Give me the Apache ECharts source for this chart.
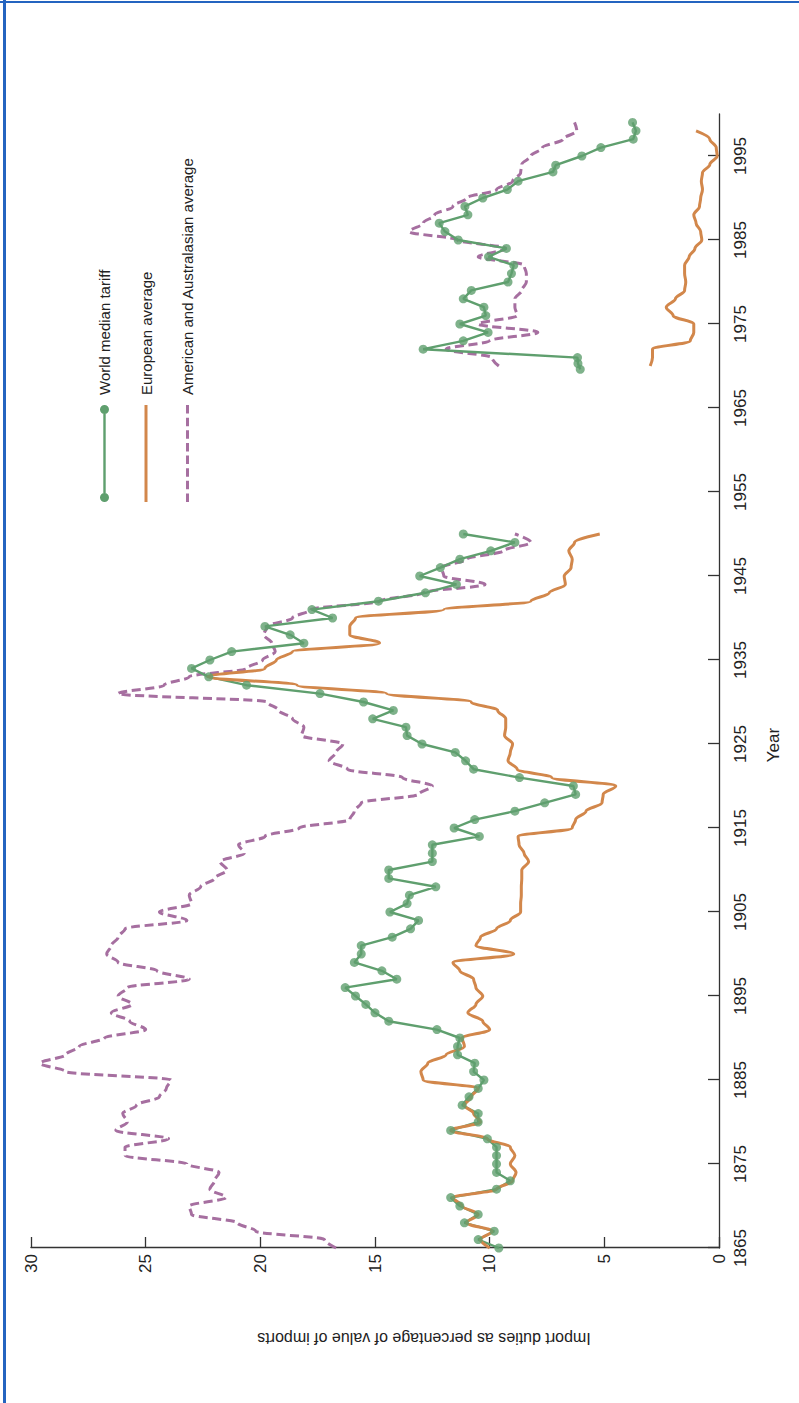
<!DOCTYPE html>
<html>
<head>
<meta charset="utf-8">
<title>Import duties</title>
<script src="https://cdn.jsdelivr.net/npm/echarts@6/dist/echarts.min.js"></script>
<style>
html,body{margin:0;padding:0;background:#fff;width:799px;height:1403px;overflow:hidden;}
.bl{position:absolute;background:#2464c0;}
#chart{position:absolute;left:0;top:0;width:1403px;height:799px;transform-origin:0 0;transform:translate(0px,1403px) rotate(-90deg);}
</style>
</head>
<body>
<div class="bl" style="left:3px;top:0;width:3px;height:1403px"></div>
<div class="bl" style="left:0;top:1px;width:799px;height:2px"></div>
<div id="chart"></div>
<script>
// ---- data (year, import duties % of value of imports) ----
const yearTicks = [1865, 1875, 1885, 1895, 1905, 1915, 1925, 1935, 1945, 1955, 1965, 1975, 1985, 1995];
const valueTicks = [0, 5, 10, 15, 20, 25, 30];

const worldTariff = [
  [1865,9.6],[1866,10.5],[1867,9.8],[1868,11.1],[1869,10.5],[1870,11.3],[1871,11.7],[1872,9.7],[1873,9.1],
  [1874,9.7],[1875,9.7],[1876,9.7],[1877,9.7],[1878,10.1],[1879,11.7],[1880,10.5],[1881,10.5],[1882,11.2],
  [1883,10.9],[1884,10.5],[1885,10.25],[1886,10.7],[1887,10.65],[1888,11.4],[1889,11.4],[1890,11.3],[1891,12.3],
  [1892,14.4],[1893,15.0],[1894,15.4],[1895,15.85],[1896,16.3],[1897,14.05],[1898,14.7],[1899,15.9],[1900,15.6],
  [1901,15.6],[1902,14.25],[1903,13.45],[1904,13.1],[1905,14.35],[1906,13.6],[1907,13.5],[1908,12.35],[1909,14.4],
  [1910,14.4],[1911,12.5],[1912,12.5],[1913,12.5],[1914,10.45],[1915,11.55],[1916,10.65],[1917,8.9],[1918,7.6],
  [1919,6.25],[1920,6.35],[1921,8.7],[1922,10.7],[1923,11.05],[1924,11.5],[1925,12.95],[1926,13.6],[1927,13.65],
  [1928,15.1],[1929,14.2],[1930,15.5],[1931,17.4],[1932,20.6],[1933,22.25],[1934,23.0],[1935,22.2],[1936,21.25],
  [1937,18.1],[1938,18.7],[1939,19.8],[1940,16.85],[1941,17.75],[1942,14.85],[1943,12.8],[1944,11.45],[1945,13.05],
  [1946,12.15],[1947,11.3],[1948,9.95],[1949,8.9],[1950,11.15],
  [1960,null],
  [1969.6,6.05],[1970.3,6.15],[1971,6.17],[1972,12.9],[1973,11.15],[1974,10.07],[1975,11.3],[1976,10.17],
  [1977,10.25],[1978,11.15],[1979,10.8],[1980,9.2],[1981,9.05],[1982,8.95],[1983,10.05],[1984,9.27],[1985,11.37],
  [1986,11.95],[1987,12.2],[1988,10.95],[1989,11.08],[1990,10.3],[1991,9.23],[1992,8.76],[1993.1,7.24],[1993.9,7.12],
  [1995,5.98],[1996,5.15],[1997,3.74],[1998,3.62],[1999,3.77]
];

const europeanAverage = [
  [1865,10.0],[1866,10.4],[1867,9.9],[1868,11.0],[1869,10.5],[1870,11.2],[1871,11.6],[1872,9.7],[1873,9.0],
  [1874,8.85],[1875,9.1],[1876,8.9],[1877,9.1],[1878,10.1],[1879,11.7],[1880,10.4],[1881,10.7],[1882,11.1],
  [1883,10.8],[1884,10.5],[1885,12.9],[1886,13.0],[1887,12.7],[1888,11.9],[1889,11.1],[1890,11.2],[1891,10.0],
  [1892,10.3],[1893,10.95],[1894,10.6],[1895,10.3],[1896,10.6],[1897,10.7],[1898,11.3],[1899,11.6],[1900,8.95],
  [1901,10.6],[1902,10.4],[1903,9.7],[1904,9.1],[1905,8.65],[1906,8.65],[1907,8.62],[1908,8.62],[1909,8.6],
  [1910,8.6],[1911,8.3],[1912,8.5],[1913,8.72],[1914,8.76],[1915,6.4],[1916,6.25],[1917,5.8],[1918,5.1],
  [1919,5.05],[1920,4.5],[1921,7.3],[1922,8.8],[1923,9.2],[1924,9.1],[1925,9.0],[1926,9.35],[1927,9.3],
  [1928,9.3],[1929,9.65],[1930,10.8],[1931,14.5],[1932,18.4],[1933,22.3],[1934,19.8],[1935,19.3],[1936,18.6],
  [1937,14.8],[1938,16.1],[1939,16.1],[1940,15.85],[1941,12.0],[1942,8.2],[1943,7.4],[1944,6.7],[1945,6.75],
  [1946,6.45],[1947,6.4],[1948,6.55],[1949,6.3],[1950,5.2],
  [1960,null],
  [1970,3.0],[1971,2.9],[1972,2.9],[1973,1.25],[1974,1.1],[1975,1.1],[1976,2.0],[1977,2.3],[1978,1.9],
  [1979,1.5],[1980,1.45],[1981,1.5],[1982,1.5],[1983,1.3],[1984,1.05],[1985,0.75],[1986,0.8],[1987,1.0],
  [1988,1.1],[1989,0.85],[1990,0.8],[1991,0.72],[1992,0.77],[1993,0.72],[1994,0.4],[1995,0.08],[1996,0.12],
  [1997,0.4],[1998,1.0]
];

const americanAverage = [
  [1865,16.7],[1866,17.2],[1867,20.2],[1868,21.0],[1869,23.0],[1870,23.1],[1871,21.5],[1872,22.2],[1873,22.0],
  [1874,21.8],[1875,23.2],[1876,25.9],[1877,25.9],[1878,24.0],[1879,26.3],[1880,25.8],[1881,26.0],[1882,25.4],
  [1883,24.4],[1884,24.1],[1885,23.9],[1886,28.5],[1887,29.6],[1888,28.5],[1889,27.9],[1890,26.8],[1891,25.0],
  [1892,25.7],[1893,26.5],[1894,25.6],[1895,26.2],[1896,25.8],[1897,23.1],[1898,24.5],[1899,26.2],[1900,26.7],
  [1901,26.5],[1902,26.2],[1903,25.9],[1904,23.2],[1905,24.4],[1906,23.0],[1907,23.1],[1908,22.6],[1909,22.0],
  [1910,21.45],[1911,21.75],[1912,20.7],[1913,20.95],[1914,19.8],[1915,18.3],[1916,16.1],[1917,15.9],[1918,15.6],
  [1919,13.1],[1920,12.5],[1921,13.8],[1922,16.2],[1923,17.0],[1924,16.7],[1925,16.4],[1926,18.2],[1927,18.1],
  [1928,18.6],[1929,19.2],[1930,19.7],[1931,26.2],[1932,24.2],[1933,23.1],[1934,20.6],[1935,19.9],[1936,19.35],
  [1937,19.5],[1938,19.85],[1939,19.7],[1940,18.6],[1941,17.8],[1942,14.8],[1943,12.9],[1944,10.2],[1945,12.0],
  [1946,12.1],[1947,11.0],[1948,9.4],[1949,8.2],[1950,8.9],
  [1960,null],
  [1970,9.6],[1971,9.9],[1972,11.9],[1973,10.0],[1974,7.9],[1975,10.5],[1976,8.8],[1977,8.9],[1978,8.9],
  [1979,8.6],[1980,8.4],[1981,8.4],[1982,8.5],[1983,10.5],[1984,9.3],[1985,11.4],[1986,13.5],[1987,12.9],
  [1988,12.4],[1989,11.6],[1990,11.0],[1991,9.7],[1992,9.0],[1993,8.65],[1994,8.6],[1995,8.2],[1996,7.7],
  [1997,6.8],[1998,6.2],[1999,6.3]
];

const seriesNames = ['World median tariff', 'European average', 'American and Australasian average'];

// ---- styles ----
const GREEN = '#5f9f6e', ORANGE = '#d2874b', PURPLE = '#a66fa0', AXIS = '#333333', TEXT = '#222222';
const FONT = '"Liberation Sans", Arial, Helvetica, sans-serif';

// legend icons (drawn in a 97 x 10 box)
const iconWorld = 'path://M0,5A4.5,4.5,0,1,1,9,5A4.5,4.5,0,1,1,0,5Z M9,3.8L88,3.8L88,6.2L9,6.2Z M88,5A4.5,4.5,0,1,1,97,5A4.5,4.5,0,1,1,88,5Z';
const iconEurope = 'path://M0,3.5L97,3.5L97,6.5L0,6.5Z';
let dashPath = 'path://';
for (let i = 0; i < 8; i++) {
  const x0 = i * 12.6, x1 = x0 + 8.6;
  dashPath += 'M' + x0.toFixed(1) + ',3.5L' + x1.toFixed(1) + ',3.5L' + x1.toFixed(1) + ',6.5L' + x0.toFixed(1) + ',6.5Z ';
}
const iconAmerica = dashPath.trim();

const chart = echarts.init(document.getElementById('chart'), null, { renderer: 'svg' });

chart.setOption({
  animation: false,
  backgroundColor: 'transparent',
  textStyle: { fontFamily: FONT },
  grid: { left: 155, right: 114, top: 31, bottom: 80, containLabel: false },
  legend: {
    orient: 'vertical',
    left: 896,
    top: 92,
    itemWidth: 97,
    itemHeight: 10,
    itemGap: 26.5,
    selectedMode: false,
    textStyle: { fontSize: 15, color: TEXT, fontFamily: FONT, padding: [0, 0, 0, 5] },
    data: [
      { name: seriesNames[0], icon: iconWorld, itemStyle: { color: GREEN } },
      { name: seriesNames[1], icon: iconEurope, itemStyle: { color: ORANGE } },
      { name: seriesNames[2], icon: iconAmerica, itemStyle: { color: PURPLE } }
    ]
  },
  xAxis: {
    type: 'value',
    min: 1865,
    max: 2000,
    position: 'bottom',
    name: 'Year',
    nameLocation: 'middle',
    nameGap: 46,
    nameTextStyle: { fontSize: 17, color: TEXT, fontFamily: FONT, padding: [0, 128, 0, 0] },
    axisLine: { show: true, onZero: false, lineStyle: { color: AXIS, width: 1.3 } },
    axisTick: { show: true, inside: true, length: 11, customValues: yearTicks, lineStyle: { color: AXIS, width: 1.3 } },
    axisLabel: { customValues: yearTicks, fontSize: 17, color: TEXT, margin: 13, fontFamily: FONT, formatter: v => String(v) },
    splitLine: { show: false }
  },
  yAxis: {
    type: 'value',
    min: 0,
    max: 30,
    interval: 5,
    position: 'left',
    name: 'Import duties as percentage of value of imports',
    nameLocation: 'middle',
    nameGap: 82,
    nameRotate: 90,
    nameTextStyle: { fontSize: 16, color: TEXT, fontFamily: FONT, padding: [0, 98, 0, 0] },
    axisLine: { show: true, onZero: false, lineStyle: { color: AXIS, width: 1.3 } },
    axisTick: { show: true, inside: true, length: 11, lineStyle: { color: AXIS, width: 1.3 } },
    axisLabel: { fontSize: 17, color: TEXT, margin: 6, fontFamily: FONT, formatter: v => String(v) },
    splitLine: { show: false }
  },
  series: [
    {
      name: seriesNames[2],
      type: 'line',
      data: americanAverage,
      smooth: 0.35,
      smoothMonotone: 'x',
      connectNulls: false,
      showSymbol: false,
      symbol: 'none',
      color: PURPLE,
      lineStyle: { color: PURPLE, width: 3, type: [9, 4.5] },
      z: 2
    },
    {
      name: seriesNames[0],
      type: 'line',
      data: worldTariff,
      connectNulls: false,
      showSymbol: false,
      symbol: 'none',
      color: GREEN,
      lineStyle: { color: GREEN, width: 2.4 },
      z: 3
    },
    {
      name: seriesNames[1],
      type: 'line',
      data: europeanAverage,
      smooth: 0.35,
      smoothMonotone: 'x',
      connectNulls: false,
      showSymbol: false,
      symbol: 'none',
      color: ORANGE,
      lineStyle: { color: ORANGE, width: 3 },
      z: 4
    },
    {
      name: seriesNames[0],
      type: 'scatter',
      data: worldTariff.filter(d => d[1] !== null),
      symbol: 'circle',
      symbolSize: 9,
      color: GREEN,
      itemStyle: { color: GREEN },
      z: 5
    }
  ]
});
</script>
</body>
</html>
